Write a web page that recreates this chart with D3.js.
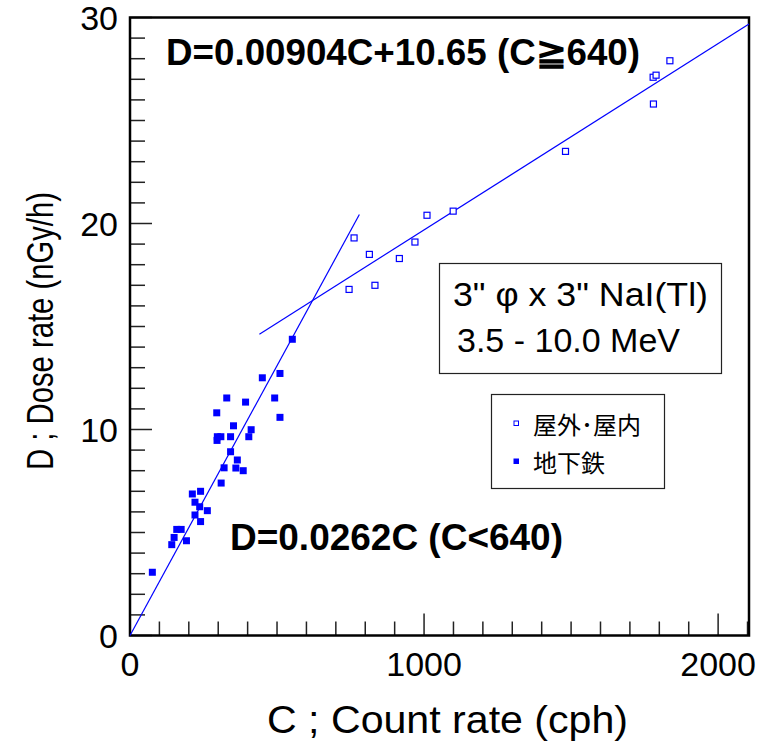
<!DOCTYPE html>
<html>
<head>
<meta charset="utf-8">
<script src="https://cdn.jsdelivr.net/npm/d3@7"></script>
<style>
  body { margin: 0; background: #fff; }
  svg { display: block; }
  text { font-family: "Liberation Sans", Arial, sans-serif; }
</style>
</head>
<body>
<div id="chart"></div>
<script>
// outdoor / indoor points (open squares)
var outdoorC = [745, 762, 814, 833, 916, 969, 1010, 1099, 1481, 1779, 1780, 1789, 1836];
var outdoorD = [16.8, 19.3, 18.5, 17.0, 18.3, 19.1, 20.4, 20.6, 23.5, 27.1, 25.8, 27.2, 27.9];

// subway points (filled squares)
var subwayC = [76, 142, 150, 159, 174, 192, 212, 221, 221, 237, 240, 240, 263, 295, 296, 297,
               309, 310, 320, 329, 342, 342, 352, 360, 365, 385, 393, 404, 412, 450, 492,
               510, 510, 552];
var subwayD = [3.07, 4.41, 4.76, 5.15, 5.15, 4.60, 6.87, 6.47, 5.85, 6.25, 7.00, 5.53, 6.06, 10.81, 9.47, 9.65,
               9.65, 7.40, 8.14, 11.53, 9.65, 8.92, 10.18, 8.13, 8.52, 8.00, 11.33, 9.65, 9.99, 12.51, 11.53,
               12.72, 10.59, 14.38];

// fitted lines: D = a*C + b over [c0, c1]
var fitLow = {a: 0.0262, b: 0, c0: 0, c1: 780};
var fitHigh = {a: 0.00904, b: 10.65, c0: 440, c1: 2105};

var xMajor = [0, 1000, 2000];
var yMajor = [0, 10, 20, 30];
var legendLabels = ["屋外･屋内", "地下鉄"];

var width = 765, height = 744;
var blue = "#0000ff";

var svg = d3.select("#chart").append("svg")
  .attr("width", width)
  .attr("height", height);

var x = d3.scaleLinear().domain([0, 2105]).range([130, 749]);
var y = d3.scaleLinear().domain([0, 30]).range([635.5, 17.5]);

// minor + major ticks, drawn inward
var g = svg.append("g").attr("stroke", "#222").attr("stroke-width", 1.5);
d3.range(0, 2101, 100).forEach(function(v) {
  var len = (v % 1000 === 0) ? 22 : 14;
  g.append("line")
    .attr("x1", x(v)).attr("x2", x(v))
    .attr("y1", y(0)).attr("y2", y(0) - len);
});
d3.range(0, 31, 1).forEach(function(v) {
  var len = (v % 10 === 0) ? 22 : 15;
  g.append("line")
    .attr("x1", x(0)).attr("x2", x(0) + len)
    .attr("y1", y(v)).attr("y2", y(v));
});

// frame
svg.append("rect")
  .attr("x", x(0)).attr("y", y(30))
  .attr("width", x(2105) - x(0))
  .attr("height", y(0) - y(30))
  .attr("fill", "none")
  .attr("stroke", "#000")
  .attr("stroke-width", 2.5);

// tick labels
svg.append("g").selectAll("text")
  .data(yMajor).enter().append("text")
  .attr("x", 118)
  .attr("y", d => y(d))
  .attr("dy", "0.38em")
  .attr("text-anchor", "end")
  .style("font-size", "34px")
  .text(d => d);

svg.append("g").selectAll("text")
  .data(xMajor).enter().append("text")
  .attr("x", d => x(d))
  .attr("y", 676)
  .attr("text-anchor", "middle")
  .style("font-size", "34px")
  .text(d => d);

// axis titles
svg.append("text")
  .attr("x", 267).attr("y", 733)
  .attr("textLength", 361)
  .attr("lengthAdjust", "spacingAndGlyphs")
  .style("font-size", "38px")
  .text("C ;  Count rate (cph)");

svg.append("text")
  .attr("transform", "translate(53,470) rotate(-90)")
  .attr("textLength", 278)
  .attr("lengthAdjust", "spacingAndGlyphs")
  .style("font-size", "37px")
  .text("D ; Dose rate (nGy/h)");

// fit lines
[fitLow, fitHigh].forEach(function(f) {
  svg.append("line")
    .attr("x1", x(f.c0)).attr("y1", y(f.a * f.c0 + f.b))
    .attr("x2", x(f.c1)).attr("y2", y(f.a * f.c1 + f.b))
    .attr("stroke", blue)
    .attr("stroke-width", 1.2);
});

// points
var outdoor = outdoorC.map((c, i) => ({c: c, d: outdoorD[i]}));
var subway = subwayC.map((c, i) => ({c: c, d: subwayD[i]}));

svg.append("g").selectAll("rect")
  .data(subway).enter().append("rect")
  .attr("x", d => x(d.c) - 3.5)
  .attr("y", d => y(d.d) - 3.5)
  .attr("width", 7).attr("height", 7)
  .attr("fill", blue);

svg.append("g").selectAll("rect")
  .data(outdoor).enter().append("rect")
  .attr("x", d => x(d.c) - 3)
  .attr("y", d => y(d.d) - 3)
  .attr("width", 6).attr("height", 6)
  .attr("fill", "#fff")
  .attr("stroke", blue)
  .attr("stroke-width", 1.2);

// equations
svg.append("text")
  .attr("x", 166).attr("y", 65)
  .attr("textLength", 474)
  .attr("lengthAdjust", "spacingAndGlyphs")
  .style("font-size", "37px").style("font-weight", "bold")
  .text("D=0.00904C+10.65 (C≧640)");

svg.append("text")
  .attr("x", 230).attr("y", 550)
  .attr("textLength", 333)
  .attr("lengthAdjust", "spacingAndGlyphs")
  .style("font-size", "37px").style("font-weight", "bold")
  .text("D=0.0262C (C<640)");

// detector info box
svg.append("rect")
  .attr("x", 439.5).attr("y", 263.5)
  .attr("width", 282).attr("height", 110)
  .attr("fill", "#fff").attr("stroke", "#222").attr("stroke-width", 1.2);
svg.append("text")
  .attr("x", 453).attr("y", 306)
  .attr("textLength", 255)
  .attr("lengthAdjust", "spacingAndGlyphs")
  .style("font-size", "33px")
  .text("3\" φ x 3\" NaI(Tl)");
svg.append("text")
  .attr("x", 457).attr("y", 352)
  .attr("textLength", 223)
  .attr("lengthAdjust", "spacingAndGlyphs")
  .style("font-size", "33px")
  .text("3.5 - 10.0 MeV");

// legend
var lg = svg.append("g");
lg.append("rect")
  .attr("x", 491.5).attr("y", 394.5)
  .attr("width", 173).attr("height", 94)
  .attr("fill", "#fff").attr("stroke", "#222").attr("stroke-width", 1.2);
lg.append("rect")
  .attr("x", 514).attr("y", 421).attr("width", 4.5).attr("height", 4.5)
  .attr("fill", "#fff").attr("stroke", blue).attr("stroke-width", 1);
lg.append("rect")
  .attr("x", 513.5).attr("y", 458.5).attr("width", 5.5).attr("height", 5.5)
  .attr("fill", blue);
lg.selectAll("text.lab")
  .data(legendLabels).enter().append("text")
  .attr("class", "lab")
  .attr("x", 533)
  .attr("y", (d, i) => 434 + i * 38)
  .style("font-family", "'Noto Sans CJK JP', sans-serif")
  .style("font-size", "24px")
  .text(d => d);
</script>
</body>
</html>
